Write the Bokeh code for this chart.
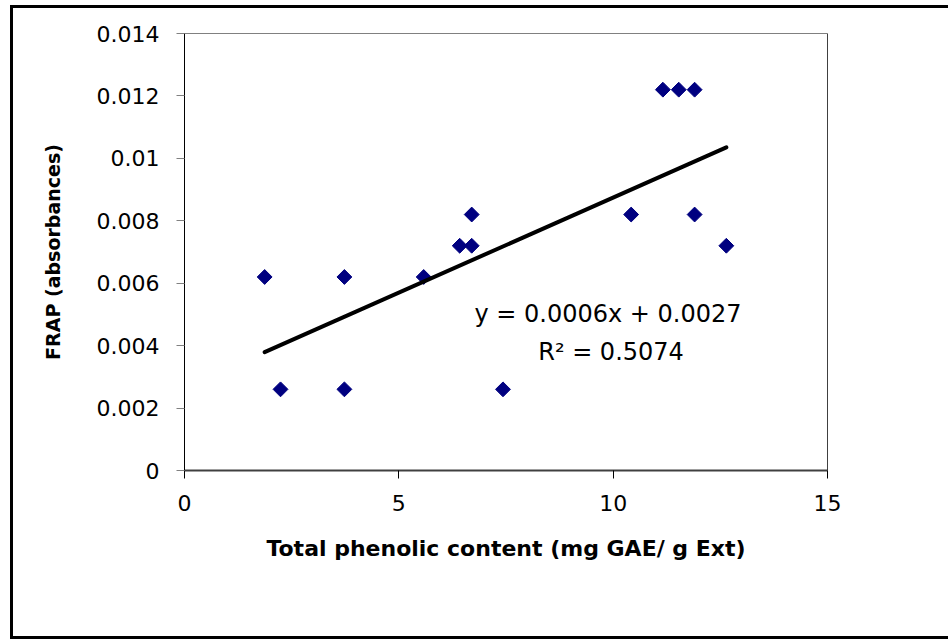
import numpy as np
from bokeh.plotting import figure
from bokeh.models import Label, Span, FixedTicker, InlineStyleSheet
from bokeh.embed import file_html
from bokeh.resources import INLINE

# ---- data ----
phenolic = [1.87, 2.24, 3.73, 3.73, 5.58, 6.42, 6.70, 6.70, 7.43, 10.42, 11.16, 11.53, 11.90, 11.90, 12.64]
frap = [0.0062, 0.0026, 0.0062, 0.0026, 0.0062, 0.0072, 0.0072, 0.0082, 0.0026, 0.0082, 0.0122, 0.0122, 0.0122, 0.0082, 0.0072]
x_ticks = [0, 5, 10, 15]
x_tick_labels = ["0", "5", "10", "15"]
y_ticks = [0, 0.002, 0.004, 0.006, 0.008, 0.01, 0.012, 0.014]
y_tick_labels = ["0", "0.002", "0.004", "0.006", "0.008", "0.01", "0.012", "0.014"]
equation_text = "y = 0.0006x + 0.0027"
r2_text = "R\u00b2 = 0.5074"
x_title = "Total phenolic content (mg GAE/ g Ext)"
y_title = "FRAP (absorbances)"

FONT = "DejaVu Sans"

# outer chart-area frame (left, top and bottom edges), drawn with CSS
frame_css = InlineStyleSheet(css="""
:host { position: relative; }
:host::after {
  content: "";
  position: absolute;
  left: 10px; top: 5px;
  width: 938px; height: 634px;
  box-sizing: border-box;
  border-left: 3px solid black;
  border-top: 3px solid black;
  border-bottom: 3px solid black;
  pointer-events: none;
  z-index: 10;
}
""")

p = figure(width=948, height=639, x_range=(0, 15), y_range=(0, 0.014),
           output_backend="svg", toolbar_location=None,
           min_border_left=184, min_border_right=121,
           min_border_top=33, min_border_bottom=169,
           stylesheets=[frame_css])
p.background_fill_color = "white"
p.border_fill_color = "white"
p.outline_line_color = "#808080"
p.outline_line_width = 1
p.xgrid.visible = False
p.ygrid.visible = False

# x axis
xa = p.xaxis[0]
xa.ticker = FixedTicker(ticks=x_ticks)
xa.major_label_overrides = {t: l for t, l in zip(x_ticks, x_tick_labels)}
xa.axis_line_color = "#404040"
xa.axis_line_width = 2
xa.major_tick_line_color = "black"
xa.major_tick_in = 0
xa.major_tick_out = 8
xa.minor_tick_line_color = None
xa.major_label_text_font = FONT
xa.major_label_text_font_size = "22px"
xa.major_label_text_color = "black"
xa.major_label_standoff = 16
xa.axis_label = x_title
xa.axis_label_text_font = FONT
xa.axis_label_text_font_style = "bold"
xa.axis_label_text_font_size = "22px"
xa.axis_label_text_color = "black"
xa.axis_label_standoff = 22

# y axis
ya = p.yaxis[0]
ya.ticker = FixedTicker(ticks=y_ticks)
ya.major_label_overrides = {t: l for t, l in zip(y_ticks, y_tick_labels)}
ya.axis_line_color = "black"
ya.axis_line_width = 1
ya.major_tick_line_color = "#808080"
ya.major_tick_in = 0
ya.major_tick_out = 8
ya.minor_tick_line_color = None
ya.major_label_text_font = FONT
ya.major_label_text_font_size = "22px"
ya.major_label_text_color = "black"
ya.major_label_standoff = 17
ya.axis_label = y_title
ya.axis_label_text_font = FONT
ya.axis_label_text_font_style = "bold"
ya.axis_label_text_font_size = "19px"
ya.axis_label_text_color = "black"
ya.axis_label_standoff = 30

# right frame edge in black
p.add_layout(Span(location=x_ticks[-1], dimension="height", line_color="black", line_width=1))

# data points
p.scatter(phenolic, frap, marker="square", angle=np.pi / 4, size=10.5,
          fill_color="#000080", line_color="#000080")

# linear trend line (least squares)
slope, intercept = np.polyfit(phenolic, frap, 1)
xf = np.array([min(phenolic), max(phenolic)])
p.line(xf, slope * xf + intercept, line_color="black", line_width=4, line_cap="round")

# equation labels
p.add_layout(Label(x=9.88, y=0.00502, text=equation_text, text_align="center",
                   text_baseline="alphabetic", text_font=FONT, text_font_size="24px",
                   text_color="black"))
p.add_layout(Label(x=9.95, y=0.0038, text=r2_text, text_align="center",
                   text_baseline="alphabetic", text_font=FONT, text_font_size="24px",
                   text_color="black"))

open("out.html", "w").write(file_html(p, INLINE))
